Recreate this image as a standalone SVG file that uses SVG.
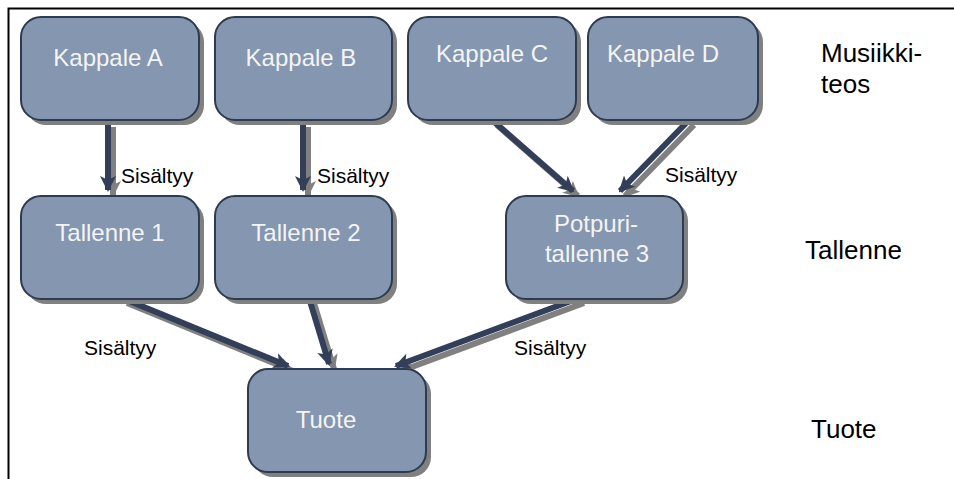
<svg xmlns="http://www.w3.org/2000/svg" width="954" height="479" viewBox="0 0 954 479">
<style>
.box{fill:#8496B0;stroke:#2E3A50;stroke-width:2}
.sh{fill:#808080}
.nt{font-family:"Liberation Sans",Arial,sans-serif;font-size:24px;fill:#F4F4F4;text-anchor:middle}
.lb{font-family:"Liberation Sans",Arial,sans-serif;font-size:21px;fill:#000}
.rl{font-family:"Liberation Sans",Arial,sans-serif;font-size:26px;fill:#000}
.ln{stroke:#333F58;stroke-width:6;fill:none;marker-end:url(#ah)}
.lns{stroke:#808080;stroke-width:6;fill:none;marker-end:url(#ahs)}
</style>
<defs>
<marker id="ah" viewBox="0 0 16 16" refX="14" refY="8" markerWidth="16" markerHeight="16" markerUnits="userSpaceOnUse" orient="auto"><path d="M0,0 L16,8 L0,16 L4,8 Z" fill="#333F58"/></marker>
<marker id="ahs" viewBox="0 0 16 16" refX="14" refY="8" markerWidth="16" markerHeight="16" markerUnits="userSpaceOnUse" orient="auto"><path d="M0,0 L16,8 L0,16 L4,8 Z" fill="#808080"/></marker>
</defs>
<rect width="954" height="479" fill="#fff"/>
<path d="M8.5,479 V8.5 H954" fill="none" stroke="#000" stroke-width="2"/>
<g id="connectors">
<g transform="translate(5,5)">
<path class="lns" d="M108,122 V190"/>
<path class="lns" d="M303,122 V190"/>
<path class="lns" d="M492,120 L573,191"/>
<path class="lns" d="M689,120 L620,191"/>
<path class="lns" d="M122,298 L288,366"/>
<path class="lns" d="M309,298 L329,364"/>
<path class="lns" d="M579,298 L396,366"/>
</g>
<path class="ln" d="M108,122 V190"/>
<path class="ln" d="M303,122 V190"/>
<path class="ln" d="M492,120 L573,191"/>
<path class="ln" d="M689,120 L620,191"/>
<path class="ln" d="M122,298 L288,366"/>
<path class="ln" d="M309,298 L329,364"/>
<path class="ln" d="M579,298 L396,366"/>
</g>
<g id="kappaleA"><rect class="sh" x="26" y="22" width="178" height="103" rx="20"/><rect class="box" x="21" y="17" width="178" height="103" rx="20"/><text class="nt" x="108" y="66">Kappale A</text></g>
<g id="kappaleB"><rect class="sh" x="220" y="22" width="177" height="103" rx="20"/><rect class="box" x="215" y="17" width="177" height="103" rx="20"/><text class="nt" x="301" y="66">Kappale B</text></g>
<g id="kappaleC"><rect class="sh" x="413" y="22" width="168" height="103" rx="20"/><rect class="box" x="408" y="17" width="168" height="103" rx="20"/><text class="nt" x="492" y="62">Kappale C</text></g>
<g id="kappaleD"><rect class="sh" x="593" y="22" width="170" height="103" rx="20"/><rect class="box" x="588" y="17" width="170" height="103" rx="20"/><text class="nt" x="663" y="62">Kappale D</text></g>
<g id="tallenne1"><rect class="sh" x="26" y="201" width="178" height="103" rx="20"/><rect class="box" x="21" y="196" width="178" height="103" rx="20"/><text class="nt" x="110" y="241">Tallenne 1</text></g>
<g id="tallenne2"><rect class="sh" x="220" y="201" width="177" height="103" rx="20"/><rect class="box" x="215" y="196" width="177" height="103" rx="20"/><text class="nt" x="306" y="241">Tallenne 2</text></g>
<g id="potpuri"><rect class="sh" x="511" y="201" width="177" height="103" rx="20"/><rect class="box" x="506" y="196" width="177" height="103" rx="20"/><text class="nt" x="596" y="232">Potpuri-</text><text class="nt" x="597" y="262">tallenne 3</text></g>
<g id="tuote"><rect class="sh" x="253" y="374" width="178" height="103" rx="20"/><rect class="box" x="248" y="369" width="178" height="103" rx="20"/><text class="nt" x="326" y="428">Tuote</text></g>
<g id="labels">
<text class="lb" x="121" y="183">Sisältyy</text>
<text class="lb" x="317" y="183">Sisältyy</text>
<text class="lb" x="665" y="182">Sisältyy</text>
<text class="lb" x="84" y="355">Sisältyy</text>
<text class="lb" x="514" y="355">Sisältyy</text>
<text class="rl" x="821" y="62">Musiikki-</text>
<text class="rl" x="821" y="93">teos</text>
<text class="rl" x="805" y="259">Tallenne</text>
<text class="rl" x="811" y="438">Tuote</text>
</g>
</svg>
